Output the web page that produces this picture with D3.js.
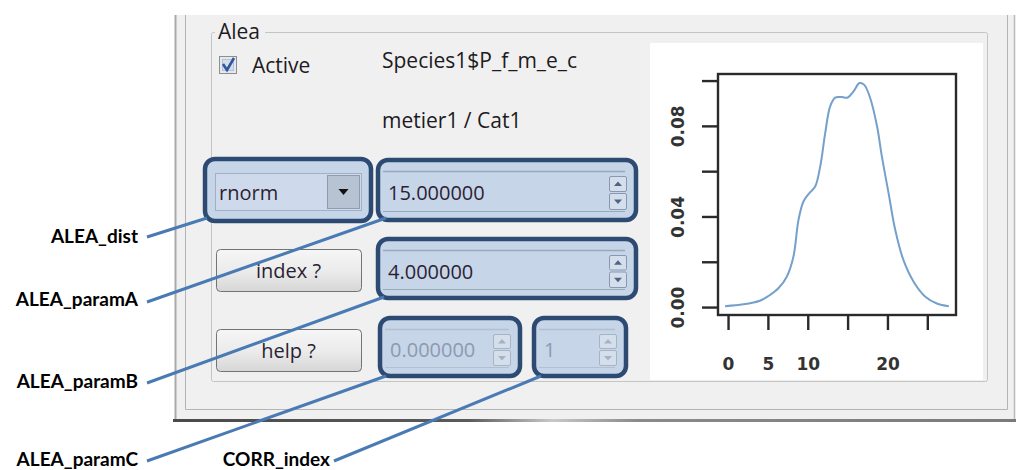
<!DOCTYPE html>
<html>
<head>
<meta charset="utf-8">
<script src="https://cdn.jsdelivr.net/npm/d3@7"></script>
<style>
html, body { margin: 0; padding: 0; background: #fff; }
svg { display: block; font-family: "Open Sans", "Noto Sans", sans-serif; }
</style>
</head>
<body>
<div id="chart"></div>
<script>
// density curve
const densX = [-0.38, 1.93, 4.0, 5.07, 6.32, 7.37, 8.2, 8.84, 9.46, 10.2, 10.93, 11.56, 12.19, 12.81, 13.44,
    14.28, 14.99, 15.74, 16.5, 17.09, 17.84, 18.7, 19.3, 20.14, 20.98, 22.0, 23.28, 24.75, 26.2, 27.7];
const densY = [0.0004, 0.0012, 0.0028, 0.0049, 0.0083, 0.0134, 0.0222, 0.0385, 0.0466, 0.0503, 0.0532, 0.0620, 0.0768, 0.0886, 0.0925,
    0.0927, 0.0925, 0.0952, 0.0989, 0.0981, 0.0922, 0.0797, 0.0665, 0.0503, 0.0340, 0.0208, 0.0112, 0.0046, 0.0016, 0.0004];

const xTicks = [0, 5, 10, 15, 20, 25];
const xLabels = ["0", "5", "10", "", "20", ""];
const yTicks = [0, 0.02, 0.04, 0.06, 0.08, 0.10];
const yLabels = ["0.00", "", "0.04", "", "0.08", ""];

// widget texts
const groupTitle = "Alea";
const checkText = "Active";
const infoLines = ["Species1$P_f_m_e_c", "metier1 / Cat1"];
const distName = "rnorm";
const spinValues = ["15.000000", "4.000000", "0.000000", "1"];
const buttonTexts = ["index ?", "help ?"];
const callouts = ["ALEA_dist", "ALEA_paramA", "ALEA_paramB", "ALEA_paramC", "CORR_index"];

const W = 1016, H = 470;
const svg = d3.select("#chart").append("svg")
    .attr("width", W)
    .attr("height", H);

const defs = svg.append("defs");
const btnGrad = defs.append("linearGradient").attr("id", "btnGrad")
    .attr("x1", 0).attr("y1", 0).attr("x2", 0).attr("y2", 1);
btnGrad.append("stop").attr("offset", "0%").attr("stop-color", "#f6f6f6");
btnGrad.append("stop").attr("offset", "50%").attr("stop-color", "#ececec");
btnGrad.append("stop").attr("offset", "100%").attr("stop-color", "#d6d6d6");

const shadowGrad = defs.append("linearGradient").attr("id", "shadowGrad")
    .attr("x1", 0).attr("y1", 0).attr("x2", 1).attr("y2", 0);
shadowGrad.append("stop").attr("offset", "0%").attr("stop-color", "#4a4a4a");
shadowGrad.append("stop").attr("offset", "35%").attr("stop-color", "#5a5a5a");
shadowGrad.append("stop").attr("offset", "45%").attr("stop-color", "#c8c8c8");
shadowGrad.append("stop").attr("offset", "55%").attr("stop-color", "#8a8a8a");
shadowGrad.append("stop").attr("offset", "100%").attr("stop-color", "#7a7a7a");

svg.append("rect").attr("width", W).attr("height", H).attr("fill", "#fff");

// window body
svg.append("rect")
    .attr("x", 175).attr("y", 15)
    .attr("width", 840).attr("height", 406)
    .attr("fill", "#f0f0f0");
svg.append("line").attr("x1", 175.5).attr("y1", 15).attr("x2", 175.5).attr("y2", 421)
    .attr("stroke", "#a9a9a9").attr("stroke-width", 2);
svg.append("line").attr("x1", 1014.5).attr("y1", 15).attr("x2", 1014.5).attr("y2", 421)
    .attr("stroke", "#b8b8b8").attr("stroke-width", 1.5);
svg.append("rect").attr("x", 173).attr("y", 419).attr("width", 843).attr("height", 3)
    .attr("fill", "url(#shadowGrad)");

// inner frame
svg.append("path")
    .attr("d", "M185.5,15 V409.5 H1007.5 V15")
    .attr("fill", "none").attr("stroke", "#b4b4b4");

// group box
svg.append("rect")
    .attr("x", 211.5).attr("y", 32.5)
    .attr("width", 776).attr("height", 349)
    .attr("rx", 2)
    .attr("fill", "none").attr("stroke", "#c4c4c4");
svg.append("rect").attr("x", 215).attr("y", 24).attr("width", 50).attr("height", 16).attr("fill", "#f0f0f0");
svg.append("text").attr("x", 218).attr("y", 39)
    .attr("font-size", 21).attr("fill", "#1d1a22")
    .text(groupTitle);

// checkbox
svg.append("rect").attr("x", 219.5).attr("y", 56.5).attr("width", 17).attr("height", 17)
    .attr("fill", "#e4e9f0").attr("stroke", "#8e8e8e");
svg.append("rect").attr("x", 222.5).attr("y", 59.5).attr("width", 11).attr("height", 11)
    .attr("fill", "#d6dde8").attr("stroke", "#b7c0cc");
svg.append("path").attr("d", "M223,64 L227,70 L234,58")
    .attr("fill", "none").attr("stroke", "#2c58a0").attr("stroke-width", 2.6);
svg.append("text").attr("x", 252).attr("y", 73)
    .attr("font-size", 21).attr("fill", "#1d1a22")
    .text(checkText);

svg.selectAll("text.info")
    .data(infoLines)
    .enter().append("text")
    .attr("class", "info")
    .attr("x", 382)
    .attr("y", (d, i) => 68 + i * 60)
    .attr("font-size", 21)
    .attr("fill", "#1d1a22")
    .text(d => d);

// highlighted widgets
function highlight(x, y, w, h) {
    svg.append("rect")
        .attr("x", x).attr("y", y).attr("width", w).attr("height", h)
        .attr("rx", 10)
        .attr("fill", "#c7d5e9")
        .attr("stroke", "#2d4b72")
        .attr("stroke-width", 4.5);
}

function combo(x, y, w, h, value) {
    highlight(x, y, w, h);
    const fx = x + 10, fy = y + 14, fw = w - 20, fh = h - 25;
    svg.append("rect").attr("x", fx + 0.5).attr("y", fy + 0.5).attr("width", fw).attr("height", fh)
        .attr("fill", "#cedaeb").attr("stroke", "#a2b0c4");
    svg.append("rect").attr("x", fx + fw - 33.5).attr("y", fy + 2.5).attr("width", 32).attr("height", fh - 4)
        .attr("fill", "#b7c3d3").attr("stroke", "#8e9bb0");
    const cx = fx + fw - 17.5, cy = fy + fh / 2 + 0.5;
    svg.append("path").attr("d", `M${cx - 5},${cy - 3} L${cx + 5},${cy - 3} L${cx},${cy + 3} Z`)
        .attr("fill", "#111");
    svg.append("text").attr("x", fx + 4).attr("y", fy + 27)
        .attr("font-size", 20).attr("fill", "#2b1f33")
        .text(value);
}

function spin(x, y, w, h, value, disabled) {
    highlight(x, y, w, h);
    const lineCol = disabled ? "#b4c0d0" : "#9aa8bb";
    svg.append("line").attr("x1", x + 5).attr("x2", x + w - 11).attr("y1", y + 11.5).attr("y2", y + 11.5)
        .attr("stroke", lineCol).attr("stroke-width", 1.5);
    svg.append("line").attr("x1", x + 5).attr("x2", x + w - 11).attr("y1", y + h - 8.5).attr("y2", y + h - 8.5)
        .attr("stroke", lineCol).attr("stroke-width", 1.2);
    const bx = x + w - 27, bw = 17;
    const mid = y + h / 2 + 2;
    [[y + 16, mid - 1, -1], [mid + 1, y + h - 11, 1]].forEach(([t, b, dir]) => {
        svg.append("rect").attr("x", bx + 0.5).attr("y", t + 0.5).attr("width", bw).attr("height", b - t)
            .attr("rx", 1.5)
            .attr("fill", "#d5dfec").attr("stroke", disabled ? "#a7b4c6" : "#8798b0");
        const cx = bx + bw / 2 + 0.5, cy = (t + b) / 2 + 0.5;
        svg.append("path")
            .attr("d", dir < 0
                ? `M${cx - 4},${cy + 2} L${cx + 4},${cy + 2} L${cx},${cy - 2.5} Z`
                : `M${cx - 4},${cy - 2} L${cx + 4},${cy - 2} L${cx},${cy + 2.5} Z`)
            .attr("fill", disabled ? "#a4b2c4" : "#4b6488");
    });
    svg.append("text").attr("x", x + 10).attr("y", y + h / 2 + 10)
        .attr("font-size", 20)
        .attr("fill", disabled ? "#8c9ab0" : "#2b1f33")
        .text(value);
}

function button(x, y, w, h, label) {
    svg.append("rect").attr("x", x + 0.5).attr("y", y + 0.5).attr("width", w).attr("height", h)
        .attr("rx", 4)
        .attr("fill", "url(#btnGrad)").attr("stroke", "#747474");
    svg.append("text").attr("x", x + w / 2).attr("y", y + h / 2 + 8)
        .attr("text-anchor", "middle")
        .attr("font-size", 20).attr("fill", "#2b1f33")
        .text(label);
}

combo(205, 159, 166, 62, distName);
spin(378, 160, 258, 60, spinValues[0], false);
spin(378, 239, 258, 59, spinValues[1], false);
spin(380, 318, 140, 58, spinValues[2], true);
spin(534, 318, 92, 58, spinValues[3], true);
button(216, 249, 145, 42, buttonTexts[0]);
button(216, 329, 145, 42, buttonTexts[1]);

// plot panel
svg.append("rect").attr("x", 650).attr("y", 43).attr("width", 333).attr("height", 337).attr("fill", "#fff");

const x = d3.scaleLinear().domain([-1.26, 28.6]).range([718, 956]);
const y = d3.scaleLinear().domain([-0.0035, 0.1029]).range([315, 74]);

const plot = svg.append("g")
    .style("font-family", "'DejaVu Sans', sans-serif");

const line = d3.line()
    .x((d, i) => x(densX[i]))
    .y(d => y(d))
    .curve(d3.curveCatmullRom.alpha(0.5));

plot.append("path")
    .datum(densY)
    .attr("d", line)
    .attr("fill", "none")
    .attr("stroke", "#74a0cb")
    .attr("stroke-width", 2);

plot.append("rect")
    .attr("x", 718).attr("y", 74)
    .attr("width", 238).attr("height", 241)
    .attr("fill", "none").attr("stroke", "#2a2a2a").attr("stroke-width", 2.4);

const xAxis = plot.append("g")
    .attr("transform", "translate(0,315)")
    .call(d3.axisBottom(x).tickValues(xTicks).tickSize(15).tickPadding(28)
        .tickFormat((d, i) => xLabels[i]));
xAxis.select(".domain").remove();
xAxis.selectAll(".tick line").attr("stroke", "#2a2a2a").attr("stroke-width", 2.4);
xAxis.selectAll(".tick text")
    .attr("font-size", 17).attr("font-weight", "bold").attr("fill", "#333")
    .attr("font-family", "'DejaVu Sans', sans-serif");

const yAxis = plot.append("g")
    .attr("transform", "translate(718,0)")
    .call(d3.axisLeft(y).tickValues(yTicks).tickSize(16)
        .tickFormat((d, i) => yLabels[i]));
yAxis.select(".domain").remove();
yAxis.selectAll(".tick line").attr("stroke", "#2a2a2a").attr("stroke-width", 2.4);
yAxis.selectAll(".tick text")
    .attr("x", null).attr("dy", null)
    .attr("text-anchor", "middle")
    .attr("dominant-baseline", "central")
    .attr("transform", "translate(-40,0) rotate(-90)")
    .attr("font-size", 17).attr("font-weight", "bold").attr("fill", "#333")
    .attr("font-family", "'DejaVu Sans', sans-serif");

// callouts
const calloutPos = [
    { tx: 138, ty: 243, from: [147, 237], to: [207, 218] },
    { tx: 138, ty: 306, from: [147, 302], to: [386, 218] },
    { tx: 138, ty: 388, from: [147, 383], to: [384, 297] },
    { tx: 138, ty: 466, from: [147, 461], to: [386, 376] },
    { tx: 330, ty: 466, from: [334, 461], to: [541, 376] }
];

svg.selectAll("line.callout")
    .data(calloutPos)
    .enter().append("line")
    .attr("class", "callout")
    .attr("x1", d => d.from[0]).attr("y1", d => d.from[1])
    .attr("x2", d => d.to[0]).attr("y2", d => d.to[1])
    .attr("stroke", "#4a7ab4")
    .attr("stroke-width", 3);

svg.selectAll("text.callout")
    .data(callouts)
    .enter().append("text")
    .attr("class", "callout")
    .attr("x", (d, i) => calloutPos[i].tx)
    .attr("y", (d, i) => calloutPos[i].ty)
    .attr("text-anchor", "end")
    .attr("font-family", "Lato, 'Liberation Sans', sans-serif")
    .attr("font-weight", "bold")
    .attr("font-size", 19)
    .attr("fill", "#000")
    .text(d => d);
</script>
</body>
</html>
